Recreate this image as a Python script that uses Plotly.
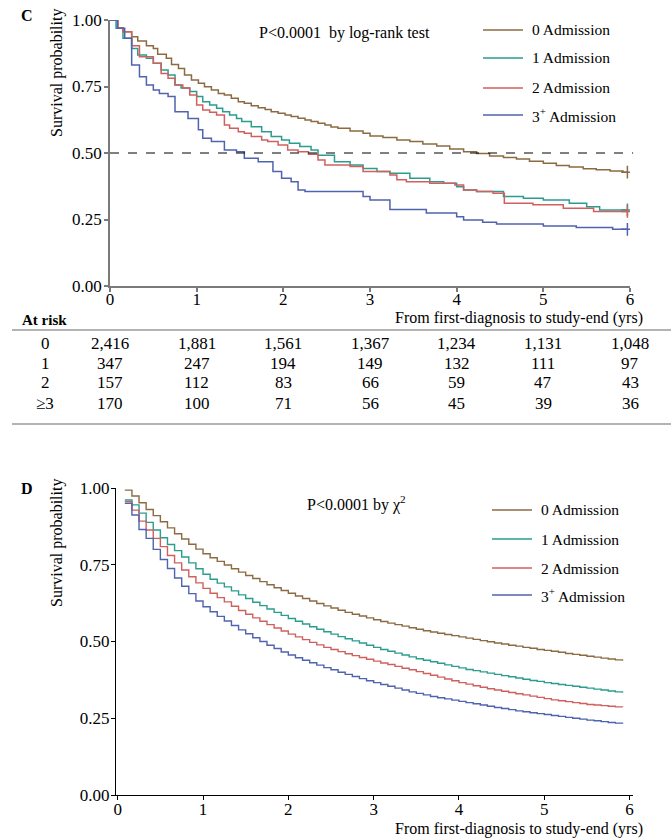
import plotly.graph_objects as go

W, H = 671, 840
FONT = "Liberation Serif, Times New Roman, DejaVu Serif, serif"

series_names = ["0 Admission", "1 Admission", "2 Admission", "3<sup>+</sup> Admission"]
colors = ["#8B6B42", "#2A9D8F", "#D0605E", "#4F63AE"]

# ---------------- Panel C: Kaplan-Meier steps (time in years, survival) ----------------
c_adm0 = [(0.00, 1.000), (0.09, 0.971), (0.15, 0.956), (0.25, 0.937), (0.32, 0.921), (0.42, 0.903),
          (0.50, 0.893), (0.55, 0.871), (0.65, 0.856), (0.71, 0.833), (0.79, 0.818), (0.86, 0.793),
          (0.94, 0.774), (1.02, 0.762), (1.09, 0.749), (1.17, 0.737), (1.25, 0.724), (1.32, 0.718),
          (1.40, 0.706), (1.48, 0.693), (1.55, 0.687), (1.63, 0.678), (1.71, 0.670), (1.79, 0.664),
          (1.86, 0.655), (1.94, 0.649), (2.02, 0.643), (2.09, 0.637), (2.17, 0.631), (2.25, 0.624),
          (2.32, 0.618), (2.40, 0.612), (2.48, 0.605), (2.55, 0.598), (2.63, 0.593), (2.77, 0.583),
          (2.92, 0.574), (3.00, 0.564), (3.15, 0.558), (3.31, 0.549), (3.46, 0.543), (3.61, 0.534),
          (3.77, 0.526), (3.92, 0.515), (4.08, 0.505), (4.23, 0.498), (4.38, 0.489), (4.54, 0.483),
          (4.69, 0.477), (4.84, 0.469), (5.00, 0.461), (5.15, 0.453), (5.30, 0.447), (5.46, 0.441),
          (5.61, 0.437), (5.77, 0.432), (5.92, 0.428), (5.97, 0.428)]
c_adm1 = [(0.00, 1.000), (0.07, 0.969), (0.15, 0.931), (0.25, 0.893), (0.32, 0.868), (0.42, 0.856),
          (0.50, 0.837), (0.59, 0.812), (0.67, 0.793), (0.75, 0.756), (0.82, 0.744), (0.92, 0.731),
          (1.00, 0.712), (1.07, 0.693), (1.15, 0.680), (1.23, 0.668), (1.30, 0.655), (1.38, 0.643),
          (1.46, 0.630), (1.52, 0.618), (1.63, 0.599), (1.75, 0.580), (1.86, 0.562), (1.98, 0.549),
          (2.07, 0.537), (2.19, 0.524), (2.32, 0.511), (2.40, 0.492), (2.59, 0.467), (2.77, 0.455),
          (2.92, 0.442), (3.08, 0.430), (3.23, 0.424), (3.46, 0.405), (3.69, 0.392), (3.85, 0.386),
          (4.00, 0.373), (4.08, 0.361), (4.23, 0.355), (4.54, 0.336), (4.77, 0.330), (5.00, 0.323),
          (5.30, 0.311), (5.50, 0.298), (5.65, 0.286), (5.97, 0.286)]
c_adm2 = [(0.00, 1.000), (0.09, 0.971), (0.15, 0.956), (0.25, 0.903), (0.34, 0.862), (0.50, 0.837),
          (0.59, 0.799), (0.67, 0.781), (0.75, 0.756), (0.84, 0.744), (0.92, 0.718), (1.00, 0.680),
          (1.07, 0.662), (1.15, 0.653), (1.23, 0.643), (1.32, 0.605), (1.38, 0.593), (1.48, 0.580),
          (1.55, 0.574), (1.63, 0.562), (1.75, 0.549), (1.82, 0.543), (1.94, 0.530), (2.05, 0.511),
          (2.17, 0.505), (2.29, 0.495), (2.40, 0.474), (2.48, 0.455), (2.77, 0.449), (2.92, 0.430),
          (3.23, 0.417), (3.31, 0.399), (3.42, 0.392), (3.69, 0.386), (3.98, 0.380), (4.08, 0.361),
          (4.23, 0.355), (4.42, 0.349), (4.55, 0.311), (4.88, 0.305), (5.23, 0.292), (5.58, 0.280),
          (5.97, 0.280)]
c_adm3 = [(0.00, 1.000), (0.085, 0.969), (0.17, 0.931), (0.25, 0.831), (0.34, 0.787), (0.42, 0.756),
          (0.50, 0.737), (0.57, 0.724), (0.67, 0.712), (0.75, 0.655), (0.90, 0.630), (1.02, 0.587),
          (1.07, 0.555), (1.17, 0.543), (1.32, 0.511), (1.46, 0.505), (1.55, 0.480), (1.71, 0.467),
          (1.88, 0.430), (1.98, 0.405), (2.09, 0.392), (2.17, 0.361), (2.25, 0.355), (2.92, 0.336),
          (3.00, 0.323), (3.23, 0.288), (3.65, 0.274), (4.00, 0.260), (4.08, 0.248), (4.30, 0.240),
          (4.46, 0.233), (5.00, 0.226), (5.38, 0.220), (5.80, 0.213), (5.97, 0.213)]

# ---------------- Number at risk table ----------------
risk_times = [0, 1, 2, 3, 4, 5, 6]
risk_rows = ["0", "1", "2", "≥3"]
risk_0 = ["2,416", "1,881", "1,561", "1,367", "1,234", "1,131", "1,048"]
risk_1 = ["347", "247", "194", "149", "132", "111", "97"]
risk_2 = ["157", "112", "83", "66", "59", "47", "43"]
risk_3 = ["170", "100", "71", "56", "45", "39", "36"]

# ---------------- Panel D: monthly steps (k = 1..71 months) ----------------
d_months = list(range(1, 72))
d_adm0 = [0.993, 0.974, 0.952, 0.930, 0.910, 0.890, 0.870, 0.851, 0.834, 0.817, 0.801, 0.786,
          0.773, 0.761, 0.749, 0.737, 0.726, 0.715, 0.705, 0.695, 0.685, 0.675, 0.666, 0.657,
          0.648, 0.640, 0.632, 0.624, 0.616, 0.609, 0.602, 0.595, 0.589, 0.583, 0.577, 0.571,
          0.565, 0.560, 0.555, 0.550, 0.545, 0.540, 0.535, 0.531, 0.527, 0.523, 0.519, 0.515,
          0.511, 0.507, 0.503, 0.499, 0.495, 0.492, 0.488, 0.485, 0.481, 0.478, 0.474, 0.471,
          0.468, 0.465, 0.461, 0.458, 0.455, 0.452, 0.449, 0.446, 0.443, 0.440, 0.437]
d_adm1 = [0.961, 0.945, 0.918, 0.888, 0.863, 0.838, 0.816, 0.796, 0.775, 0.756, 0.737, 0.719,
          0.703, 0.690, 0.678, 0.665, 0.652, 0.640, 0.628, 0.617, 0.606, 0.595, 0.585, 0.575,
          0.566, 0.557, 0.548, 0.540, 0.532, 0.524, 0.516, 0.509, 0.502, 0.495, 0.488, 0.481,
          0.474, 0.468, 0.462, 0.456, 0.450, 0.444, 0.439, 0.434, 0.429, 0.424, 0.419, 0.414,
          0.409, 0.405, 0.401, 0.397, 0.393, 0.389, 0.385, 0.381, 0.377, 0.373, 0.370, 0.366,
          0.363, 0.360, 0.357, 0.354, 0.351, 0.348, 0.345, 0.342, 0.339, 0.336, 0.333]
d_adm2 = [0.955, 0.928, 0.892, 0.863, 0.836, 0.809, 0.780, 0.756, 0.733, 0.711, 0.691, 0.673,
          0.657, 0.643, 0.629, 0.615, 0.601, 0.589, 0.577, 0.566, 0.555, 0.544, 0.534, 0.524,
          0.515, 0.506, 0.497, 0.489, 0.481, 0.474, 0.467, 0.460, 0.454, 0.448, 0.442, 0.436,
          0.430, 0.425, 0.419, 0.413, 0.408, 0.402, 0.396, 0.390, 0.384, 0.378, 0.372, 0.366,
          0.361, 0.356, 0.351, 0.346, 0.342, 0.338, 0.334, 0.330, 0.326, 0.322, 0.318, 0.314,
          0.310, 0.307, 0.304, 0.301, 0.298, 0.295, 0.293, 0.291, 0.289, 0.287, 0.286]
d_adm3 = [0.950, 0.912, 0.865, 0.836, 0.800, 0.767, 0.738, 0.707, 0.680, 0.656, 0.632, 0.613,
          0.597, 0.582, 0.567, 0.552, 0.538, 0.525, 0.512, 0.500, 0.488, 0.477, 0.466, 0.456,
          0.447, 0.439, 0.431, 0.423, 0.415, 0.408, 0.400, 0.393, 0.386, 0.379, 0.372, 0.366,
          0.360, 0.354, 0.348, 0.342, 0.336, 0.331, 0.326, 0.321, 0.317, 0.313, 0.309, 0.305,
          0.301, 0.297, 0.293, 0.289, 0.285, 0.282, 0.278, 0.274, 0.271, 0.268, 0.265, 0.262,
          0.259, 0.256, 0.253, 0.250, 0.247, 0.244, 0.242, 0.239, 0.236, 0.234, 0.232]

year_ticks = [0, 1, 2, 3, 4, 5, 6]
surv_ticks = [0, 0.25, 0.5, 0.75, 1.0]


def px_x(x):
    return x / W


def px_y(y):
    return 1 - y / H


fig = go.Figure()

# Panel C curves
for name, col, data in zip(series_names, colors, [c_adm0, c_adm1, c_adm2, c_adm3]):
    ts = [p[0] for p in data]
    ss = [p[1] for p in data]
    fig.add_trace(go.Scatter(x=ts, y=ss, mode="lines", line=dict(color=col, width=1.5, shape="hv"),
                             name=name, showlegend=False, xaxis="x", yaxis="y", hoverinfo="skip"))
    fig.add_trace(go.Scatter(x=[ts[-1]], y=[ss[-1]], mode="markers",
                             marker=dict(symbol="cross-thin", size=9, line=dict(color=col, width=1.5)),
                             showlegend=False, xaxis="x", yaxis="y", hoverinfo="skip"))

# Panel D curves
d_times = [m / 12 for m in d_months]
for name, col, vals in zip(series_names, colors, [d_adm0, d_adm1, d_adm2, d_adm3]):
    fig.add_trace(go.Scatter(x=d_times, y=vals, mode="lines", line=dict(color=col, width=1.4, shape="hv"),
                             name=name, showlegend=False, xaxis="x2", yaxis="y2", hoverinfo="skip"))

tickfont = dict(family=FONT, size=17, color="black")
gray = "#7a7a7a"

fig.update_layout(
    width=W, height=H, margin=dict(l=0, r=0, t=0, b=0, pad=0, autoexpand=False),
    paper_bgcolor="white", plot_bgcolor="white",
    font=dict(family=FONT, color="black"),
    xaxis=dict(domain=[px_x(110), px_x(630)], range=[0, 6], anchor="y", automargin=False,
               tickvals=year_ticks, ticks="outside", ticklen=4, tickcolor=gray, tickwidth=1.5,
               showline=True, linecolor=gray, linewidth=1.5, showgrid=False, zeroline=False,
               tickfont=tickfont, ticklabelstandoff=-7),
    yaxis=dict(domain=[px_y(286), px_y(20)], range=[0, 1], anchor="x", automargin=False,
               tickvals=surv_ticks, tickformat=".2f", ticks="outside", ticklen=4, tickcolor=gray,
               tickwidth=1.5, showline=True, linecolor=gray, linewidth=1.5, showgrid=False,
               zeroline=False, tickfont=tickfont, ticklabelstandoff=-1),
    xaxis2=dict(domain=[px_x(116), px_x(633)], range=[-0.02, 6.04], anchor="y2", automargin=False,
                tickvals=year_ticks, ticks="outside", ticklen=4, tickcolor="black", tickwidth=1.2,
                showline=True, linecolor="black", linewidth=1.2, showgrid=False, zeroline=False,
                tickfont=tickfont, ticklabelstandoff=-6),
    yaxis2=dict(domain=[px_y(795), px_y(488)], range=[0, 1], anchor="x2", automargin=False,
                tickvals=surv_ticks, tickformat=".2f", ticks="outside", ticklen=4, tickcolor="black",
                tickwidth=1.2, showline=True, linecolor="black", linewidth=1.2, showgrid=False,
                zeroline=False, tickfont=tickfont, ticklabelstandoff=-2),
)

shapes = []
annotations = []

# dashed median line in C
shapes.append(dict(type="line", xref="x domain", yref="y", x0=0, x1=1.006, y0=0.5, y1=0.5,
                   line=dict(color="black", width=1, dash="dash")))

# manual legends
legend_c_rows = [30, 58, 88, 115]
legend_d_rows = [510, 539, 568, 595]
for (rows, x0, x1, xt) in [(legend_c_rows, 483, 523, 530), (legend_d_rows, 492, 532, 539)]:
    for name, col, yy in zip(series_names, colors, rows):
        shapes.append(dict(type="line", xref="paper", yref="paper", x0=px_x(x0), x1=px_x(x1),
                           y0=px_y(yy), y1=px_y(yy), line=dict(color=col, width=1.4)))
        annotations.append(dict(text=name, xref="paper", yref="paper", x=px_x(xt), y=px_y(yy),
                                xanchor="left", yanchor="middle", showarrow=False,
                                font=dict(family=FONT, size=15.5, color="black")))


def txt(text, x, y, size=16, xanchor="left", bold=False, angle=0):
    annotations.append(dict(text=f"<b>{text}</b>" if bold else text, xref="paper", yref="paper",
                            x=px_x(x), y=px_y(y), xanchor=xanchor, yanchor="middle",
                            showarrow=False, textangle=angle,
                            font=dict(family=FONT, size=size, color="black")))


# panel labels and texts
txt("C", 27, 15, size=16, xanchor="center", bold=True)
txt("D", 27, 488, size=16, xanchor="center", bold=True)
txt("Survival probability", 57, 73, size=16, xanchor="center", angle=-90)
txt("Survival probability", 57, 543, size=16, xanchor="center", angle=-90)
txt("P&lt;0.0001  by log-rank test", 257, 33, size=16)
txt("P&lt;0.0001 by χ<sup>2</sup>", 305, 503, size=16)
txt("From first-diagnosis to study-end (yrs)", 645, 318, size=16, xanchor="right")
txt("From first-diagnosis to study-end (yrs)", 645, 829, size=16, xanchor="right")
txt("At risk", 20, 320, size=15, bold=True)

# at-risk table
table_row_y = [343, 363, 383, 403]
for label, vals, yy in zip(risk_rows, [risk_0, risk_1, risk_2, risk_3], table_row_y):
    txt(label, 45, yy, size=17, xanchor="center")
    for t, v in zip(risk_times, vals):
        annotations.append(dict(text=v, xref="x", yref="paper", x=t, y=px_y(yy),
                                xanchor="center", yanchor="middle", showarrow=False,
                                font=dict(family=FONT, size=17, color="black")))

for yy in [330, 424]:
    shapes.append(dict(type="line", xref="paper", yref="paper", x0=px_x(12), x1=1.0,
                       y0=px_y(yy), y1=px_y(yy), line=dict(color="#9a9a9a", width=1.5)))

fig.update_layout(shapes=shapes, annotations=annotations)

fig.write_html(
    "out.html",
    config={"displayModeBar": False},
    post_script="document.body.style.margin='0px'; document.body.style.padding='0px'; "
                "document.documentElement.style.overflow='hidden';",
)
